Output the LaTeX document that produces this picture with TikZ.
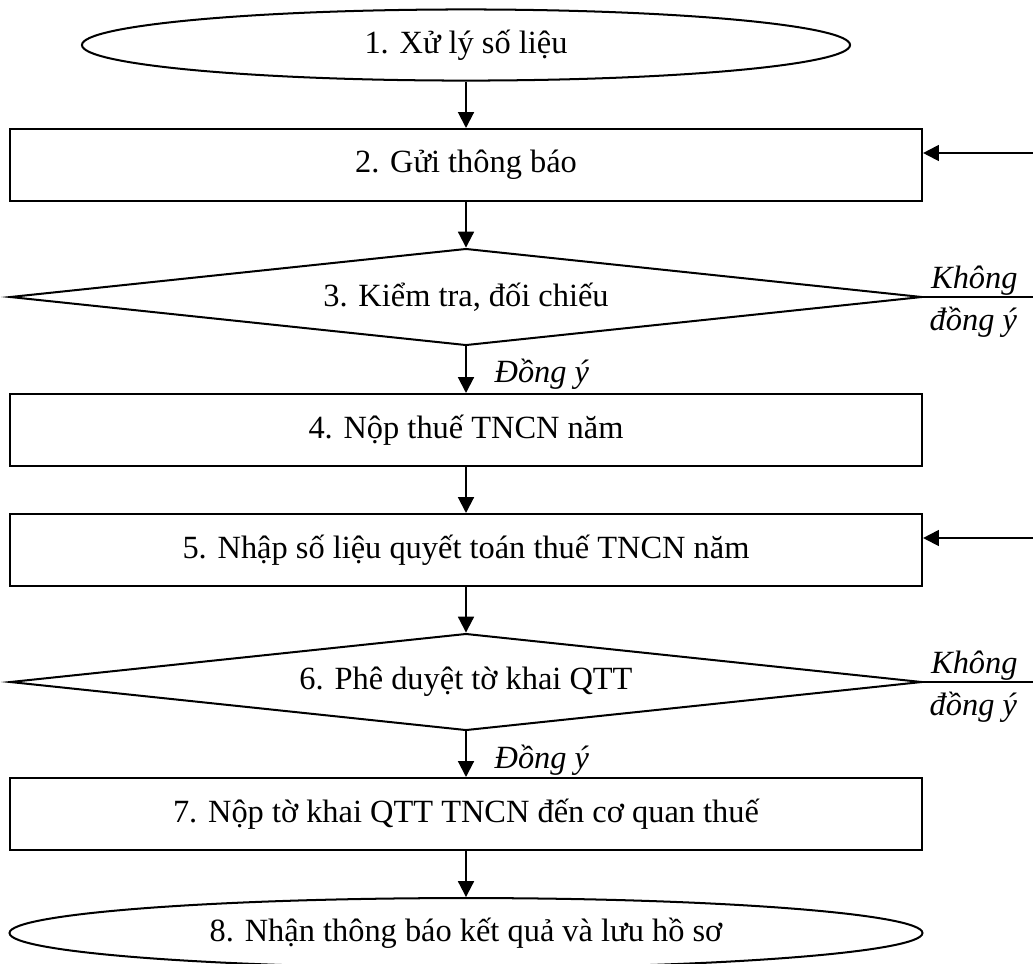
\documentclass[tikz,border=0pt]{standalone}
\usepackage{fontspec}
\setmainfont{Liberation Serif}
\usetikzlibrary{arrows.meta,shapes.geometric,positioning}
\tikzstyle{procbox}=[draw, line width=0.67pt, minimum width=304pt,
                minimum height=24pt, inner sep=0pt]
\tikzstyle{ends}=[draw, ellipse, line width=0.67pt, inner sep=0pt]
\tikzstyle{check}=[draw, diamond, aspect=9.4, line width=0.67pt,
                minimum width=304pt, minimum height=32.3pt, inner sep=0pt]
\tikzstyle{line}=[draw, line width=0.67pt, -{Triangle[length=5.3pt,width=5.3pt]}]
\tikzstyle{back}=[draw, line width=0.67pt]
\tikzstyle{lbl}=[font=\itshape, inner sep=0pt]

\begin{document}
\begin{tikzpicture}[x=0.3333pt,y=-0.3333pt]
\fontsize{10.8}{13}\selectfont
\clip (0,0) rectangle (1033,963);

% main chain
\node[ends, minimum width=256pt, minimum height=23.7pt] (s1) at (466,45) {1. Xử lý số liệu};
\node[procbox] (s2) at (466,165) {2. Gửi thông báo};
\node[check] (s3) at (466,297) {3. Kiểm tra, đối chiếu};
\node[procbox] (s4) at (466,430) {4. Nộp thuế TNCN năm};
\node[procbox] (s5) at (466,550) {5. Nhập số liệu quyết toán thuế TNCN năm};
\node[check] (s6) at (466,682) {6. Phê duyệt tờ khai QTT};
\node[procbox] (s7) at (466,814) {7. Nộp tờ khai QTT TNCN đến cơ quan thuế};
\node[ends, minimum width=304.3pt, minimum height=23.3pt] (s8) at (466,933) {8. Nhận thông báo kết quả và lưu hồ sơ};

\draw[line] (s1) -- (s2);
\draw[line] (s2) -- (s3);
\draw[line] (s3) -- (s4);
\draw[line] (s4) -- (s5);
\draw[line] (s5) -- (s6);
\draw[line] (s6) -- (s7);
\draw[line] (s7) -- (s8);

\node[lbl, anchor=west] (ok3) at (494,374) {Đồng ý};
\node[lbl, anchor=west] (ok6) at (494,760) {Đồng ý};

% going back
\coordinate (r3) at (1040,297);
\coordinate (r2) at (1040,153);
\draw[back] (s3.east) -- (r3);
\draw[line] (r2) -- (r2 -| s2.east);
\node[lbl, above right=0.5pt and 2.5pt of s3.east] (no3a) {Không};
\node[lbl, below right=3pt and 2pt of s3.east] (no3b) {đồng ý};

\coordinate (r6) at (1040,682);
\coordinate (r5) at (1040,538);
\draw[back] (s6.east) -- (r6);
\draw[line] (r5) -- (r5 -| s5.east);
\node[lbl, above right=0.5pt and 2.5pt of s6.east] (no6a) {Không};
\node[lbl, below right=3pt and 2pt of s6.east] (no6b) {đồng ý};
\end{tikzpicture}
\end{document}
